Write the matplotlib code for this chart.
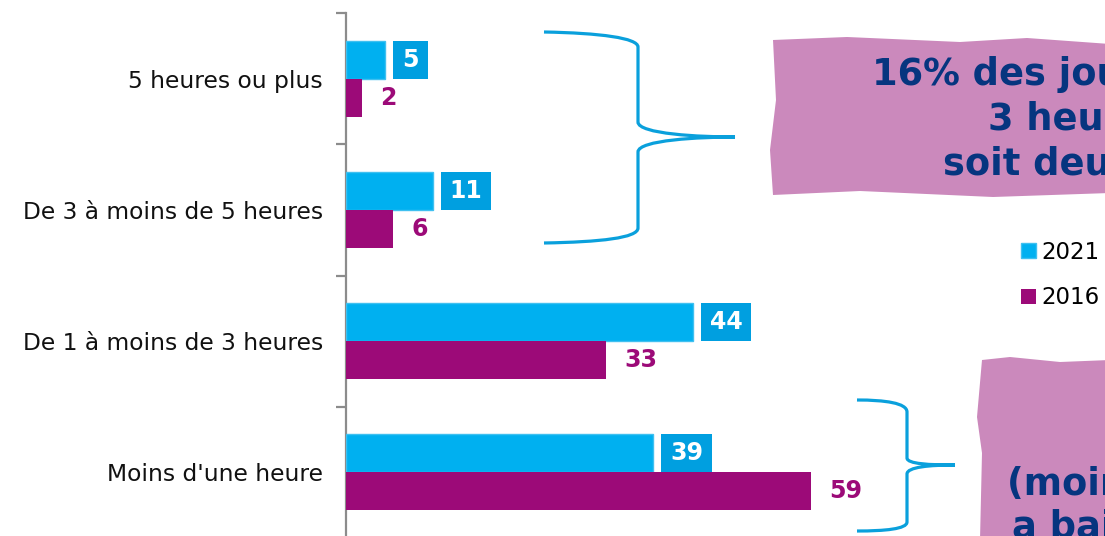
import matplotlib
matplotlib.use("Agg")
import matplotlib.pyplot as plt
from matplotlib.path import Path
from matplotlib.patches import PathPatch, Rectangle

categories = ["5 heures ou plus", "De 3 à moins de 5 heures",
              "De 1 à moins de 3 heures", "Moins d'une heure"]
vals_2021 = [5, 11, 44, 39]
vals_2016 = [2, 6, 33, 59]
series_names = ["2021", "2016"]

BLUE = "#00b0f0"
BLUE_BOX = "#009fe0"
PURPLE = "#9c0a78"
PINK = "#cb89bc"
NAVY = "#06357f"
BRACE = "#0aa0dc"

W, H = 1105, 536
fig = plt.figure(figsize=(W / 100, H / 100), dpi=100)


def fx(x):
    return x / W


def fy(y):
    return 1 - y / H


# axes: spine at x=346, category pitch ~131 px
ax = fig.add_axes([fx(346), fy(538), fx(W - 346), (538 - 13) / H])
xmax = (W - 346) / 7.88
ax.set_xlim(0, xmax)
ax.set_ylim(len(categories) - 0.5, -0.5)
ppu = (W - 346) / xmax  # pixels per unit

ypos = list(range(len(categories)))
bh = 0.29
off = 0.145
b21 = ax.barh([y - off for y in ypos], vals_2021, height=bh, color=BLUE,
              edgecolor="#3fc0f0", linewidth=1, label=series_names[0], zorder=3)
b16 = ax.barh([y + off for y in ypos], vals_2016, height=bh, color=PURPLE,
              label=series_names[1], zorder=3)

for s in ["top", "right", "bottom"]:
    ax.spines[s].set_visible(False)
ax.spines["left"].set_color("#8c8c8c")
ax.spines["left"].set_linewidth(1.6)
ax.set_xticks([])
ax.set_yticks(ypos)
ax.set_yticklabels(categories, fontsize=16.8, color="#111111")
ax.tick_params(axis="y", which="major", length=0, pad=16.5)
ax.set_yticks([y - 0.5 for y in ypos], minor=True)
ax.tick_params(axis="y", which="minor", length=7, width=1.6, color="#8c8c8c")

# value labels
renderer = fig.canvas.get_renderer()
for y, v in zip(ypos, vals_2021):
    t = ax.annotate(str(v), xy=(v, y - off), xytext=(17, 0),
                    textcoords="offset pixels", ha="left", va="center",
                    fontsize=17, fontweight="bold", color="white", zorder=6,
                    annotation_clip=False)
    w = t.get_window_extent(renderer).width
    ax.add_patch(Rectangle((v + 8 / ppu, y - off - bh / 2), (w + 18) / ppu, bh,
                           facecolor=BLUE_BOX, edgecolor="none", zorder=5,
                           clip_on=False))
for y, v in zip(ypos, vals_2016):
    ax.annotate(str(v), xy=(v, y + off), xytext=(18, 0),
                textcoords="offset pixels", ha="left", va="center",
                fontsize=17, fontweight="bold", color=PURPLE, zorder=6,
                annotation_clip=False)

# legend
leg = ax.legend(handles=[b21, b16], loc="center left",
                bbox_to_anchor=(fx(1021), fy(275)),
                bbox_transform=fig.transFigure, frameon=False, fontsize=16.5,
                handlelength=0.66, handleheight=0.66, handletextpad=0.22,
                labelspacing=1.0, borderpad=0, borderaxespad=0)


def fig_path(points, codes):
    return Path([(fx(x), fy(y)) for x, y in points], codes)


M, L, C = Path.MOVETO, Path.LINETO, Path.CURVE4

# pink note boxes (wavy edges), running off the right edge like the source
top_box = [(773, 40), (847, 37), (960, 42), (1027, 38), (1110, 44),
           (1110, 193), (993, 197), (860, 191), (773, 195),
           (770, 150), (776, 100), (773, 40)]
bot_box = [(982, 360), (1010, 357), (1060, 362), (1110, 360),
           (1110, 540), (980, 540), (982, 453), (977, 417), (982, 360)]
for pts in [top_box, bot_box]:
    codes = [M] + [L] * (len(pts) - 2) + [Path.CLOSEPOLY]
    fig.add_artist(PathPatch(fig_path(pts, codes), transform=fig.transFigure,
                             facecolor=PINK, edgecolor="none", zorder=1))

note_kw = dict(fontsize=26.5, fontweight="bold", color=NAVY, ha="left",
               va="baseline", zorder=2)
fig.text(fx(872), fy(85), "16% des joueurs jouent", **note_kw)
fig.text(fx(988), fy(130), "3 heures ou plus", **note_kw)
fig.text(fx(943), fy(175), "soit deux fois plus", **note_kw)
fig.text(fx(1007), fy(495), "(moins d'une heure)", **note_kw)
fig.text(fx(1012), fy(537), "a baissé", **note_kw)

# braces
braces = [
    ([(544, 32), (600, 33), (638, 38), (638, 47), (638, 122),
      (638, 134), (700, 137), (735, 137),
      (700, 137), (638, 140), (638, 152), (638, 228),
      (638, 238), (600, 242), (544, 243)]),
    ([(857, 400), (885, 400), (907, 403), (907, 412), (907, 458),
      (907, 464), (930, 465), (955, 465),
      (930, 465), (907, 467), (907, 474), (907, 522),
      (907, 529), (885, 531), (857, 531)]),
]
brace_codes = [M, C, C, C, L, C, C, C, C, C, C, L, C, C, C]
for pts in braces:
    fig.add_artist(PathPatch(fig_path(pts, brace_codes),
                             transform=fig.transFigure, facecolor="none",
                             edgecolor=BRACE, linewidth=2.3, zorder=3))

fig.savefig("out.png", dpi=100)
